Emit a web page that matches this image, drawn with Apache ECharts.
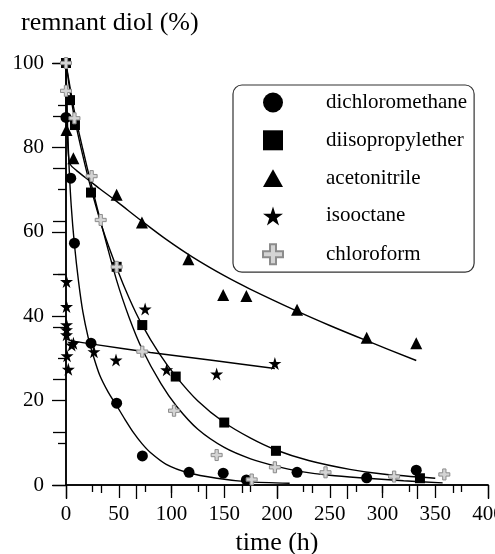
<!DOCTYPE html>
<html>
<head>
<meta charset="utf-8">
<script src="https://cdn.jsdelivr.net/npm/echarts@6/dist/echarts.min.js"></script>
<style>
  html, body { margin: 0; padding: 0; background: #fff; }
  #chart { width: 495px; height: 554px; }
</style>
</head>
<body>
<div id="chart"></div>
<script>
// remnant diol vs time for five solvents: measured points + fitted decay curves.
// Points are [time (h), remnant diol (%)], read off the printed figure.
const FONT = '"Liberation Serif", "DejaVu Serif", serif';

const names = ['dichloromethane', 'diisopropylether', 'acetonitrile', 'isooctane', 'chloroform'];

const ptsDichloromethane = [[0, 87.1], [4.5, 72.7], [8, 57.3], [23.7, 33.6], [48, 19.4], [72.4, 6.9],
  [116.6, 3.0], [149, 2.8], [171, 1.2], [219, 3.0], [285, 1.7], [332, 3.5]];
const ptsDiisopropylether = [[0, 100], [3.8, 91.2], [8.5, 85.3], [23.7, 69.3], [48, 51.7], [72.3, 37.9],
  [104, 25.7], [150, 14.8], [199, 8.1], [335.5, 1.6]];
const ptsAcetonitrile = [[0.5, 84.1], [7, 77.4], [48, 68.8], [72, 62.2], [116, 53.5], [149, 45.0],
  [171, 44.8], [219, 41.5], [285, 34.9], [332, 33.6]];
const ptsIsooctane = [[0.5, 48.2], [0.5, 42.3], [0.5, 38.0], [0.5, 36.8], [0.5, 35.6], [1, 30.6],
  [2.2, 27.4], [5.4, 33.2], [7, 33.6], [26.5, 31.6], [47.4, 29.6], [75, 41.7], [95.4, 27.3],
  [142.8, 26.3], [198, 28.8]];
const ptsChloroform = [[0, 100], [0, 93.4], [8, 86.9], [24.3, 73.2], [32.9, 62.8], [48, 51.7],
  [72.3, 31.6], [102.4, 17.6], [142.8, 7.1], [176, 1.3], [198, 4.2], [246, 3.0], [311, 2.0], [358.6, 2.5]];

// fitted curves
const fitDichloromethane = [[0, 100], [1.5, 85], [3, 75], [5, 66], [8, 57], [12, 48], [16, 41], [21, 35],
  [26, 30.5], [32, 26], [40, 22], [48, 18.8], [56, 15.5], [64, 12.4], [72, 9.8], [80, 7.7], [95, 4.9],
  [116, 2.9], [143, 1.6], [171, 0.8], [212, 0.4]];
const fitDiisopropylether = [[0, 100], [4, 93], [8, 87], [16, 78], [24, 70], [35, 60.5], [48, 51.5],
  [60, 44.2], [72, 38], [88, 31.3], [104, 25.8], [125, 19.9], [150, 14.8], [175, 11.1], [199, 8.3],
  [230, 5.8], [269, 3.7], [300, 2.6], [350, 1.6]];
const fitAcetonitrile = [[0, 100], [1, 86], [2.2, 78.5], [4, 76], [10, 74.5], [22.7, 72], [32, 70.2],
  [48, 67.2], [72.6, 62.4], [95, 58.2], [120, 54], [150, 49.6], [174, 46.5], [219, 41.2], [250, 37.8],
  [285, 34.2], [332, 29.5]];
const fitIsooctane = [[1, 34.5], [5, 34.2], [30, 33.2], [80, 31.4], [140, 29.5], [198, 27.6]];
const fitChloroform = [[0, 100], [8, 88.5], [16, 79.5], [24, 71.2], [33, 62.3], [48, 48.5], [60, 39.6],
  [72, 32.3], [90, 24], [105, 18.6], [125, 13.2], [150, 8.9], [175, 6.2], [200, 4.4], [220, 3.3],
  [250, 2.3], [285, 1.6], [320, 1.0], [357, 0.5]];

const SQUARE = 'path://M0,0 H100 V100 H0 Z';
const TRIANGLE = 'path://M50,0 L100,88 L0,88 Z';
const STAR = 'path://M50,0 L61,35 L98,35 L68,57 L79,91 L50,70 L21,91 L32,57 L2,35 L39,35 Z';
const CROSS = 'path://M35,0 H65 V35 H100 V65 H65 V100 H35 V65 H0 V35 H35 Z';

const chart = echarts.init(document.getElementById('chart'));

function fitSeries(data) {
  return {
    type: 'line', data, smooth: 0.3, showSymbol: false, silent: true,
    lineStyle: { color: '#000', width: 1.4 }, z: 2,
  };
}
function pointSeries(name, data, symbol, size, style) {
  return {
    name, type: 'scatter', data, symbol, symbolSize: size, z: 3,
    itemStyle: style || { color: '#000', opacity: 1 },
  };
}

const crossStyle = { color: '#d4d4d4', borderColor: '#8c8c8c', borderWidth: 1, opacity: 1 };
const tickStyle = { color: '#000', width: 1.3 };

chart.setOption({
  animation: false,
  title: {
    text: 'remnant diol (%)', left: 21, top: 10, padding: 0,
    textStyle: { fontFamily: FONT, fontSize: 26, fontWeight: 'normal', color: '#000' },
  },
  // fixed plot box; don't let the axis name squeeze it
  grid: { left: 66, right: 7, top: 63, bottom: 69, containLabel: false, outerBoundsMode: 'none' },
  legend: {
    orient: 'vertical', left: 233, top: 85,
    padding: [7, 7, 7, 29],
    itemWidth: 20, itemHeight: 20, itemGap: 16.8,
    backgroundColor: '#fff', borderColor: '#333', borderWidth: 1.2, borderRadius: 9,
    selectedMode: false,
    textStyle: { fontFamily: FONT, fontSize: 21, color: '#000', padding: [0, 0, 0, 38], lineHeight: 20 },
    data: [
      { name: names[0], icon: 'circle' },
      { name: names[1], icon: SQUARE },
      { name: names[2], icon: TRIANGLE },
      { name: names[3], icon: STAR },
      { name: names[4], icon: CROSS },
    ],
  },
  xAxis: [{
    type: 'value', min: 0, max: 400, interval: 50,
    name: 'time (h)', nameLocation: 'middle', nameGap: 44,
    nameTextStyle: { fontFamily: FONT, fontSize: 26, color: '#000' },
    axisLine: { lineStyle: { color: '#000', width: 1.5 } },
    axisTick: { inside: false, length: 13, lineStyle: tickStyle },
    minorTick: { show: true, splitNumber: 2, length: 7, lineStyle: tickStyle },
    axisLabel: { fontFamily: FONT, fontSize: 21, color: '#000', margin: 19 },
    splitLine: { show: false },
  }, {
    // top frame edge: its own tick spacing, no labels
    type: 'value', position: 'top', min: 0, max: 12, interval: 2,
    axisLine: { lineStyle: { color: '#000', width: 1.5 } },
    axisTick: { inside: true, length: 14, lineStyle: tickStyle },
    minorTick: { show: true, splitNumber: 2, length: 8, lineStyle: tickStyle },
    axisLabel: { show: false }, splitLine: { show: false },
  }],
  yAxis: [{
    type: 'value', min: 0, max: 100, interval: 20,
    axisLine: { show: true, lineStyle: { color: '#000', width: 1.5 } },
    axisTick: { show: true, inside: false, length: 14, lineStyle: tickStyle },
    minorTick: { show: true, splitNumber: 2, length: 8, lineStyle: tickStyle },
    axisLabel: { fontFamily: FONT, fontSize: 21, color: '#000', margin: 22 },
    splitLine: { show: false },
  }, {
    type: 'value', position: 'right', min: 0, max: 8, interval: 1,
    axisLine: { show: true, lineStyle: { color: '#000', width: 1.5 } },
    axisTick: { show: true, inside: true, length: 13, lineStyle: tickStyle },
    axisLabel: { show: false }, splitLine: { show: false },
  }],
  series: [
    fitSeries(fitDichloromethane),
    fitSeries(fitDiisopropylether),
    fitSeries(fitAcetonitrile),
    fitSeries(fitIsooctane),
    fitSeries(fitChloroform),
    pointSeries(names[0], ptsDichloromethane, 'circle', 11),
    pointSeries(names[1], ptsDiisopropylether, SQUARE, 10),
    pointSeries(names[2], ptsAcetonitrile, TRIANGLE, 12),
    pointSeries(names[3], ptsIsooctane, STAR, 13),
    pointSeries(names[4], ptsChloroform, CROSS, 11, crossStyle),
  ],
});
</script>
</body>
</html>
